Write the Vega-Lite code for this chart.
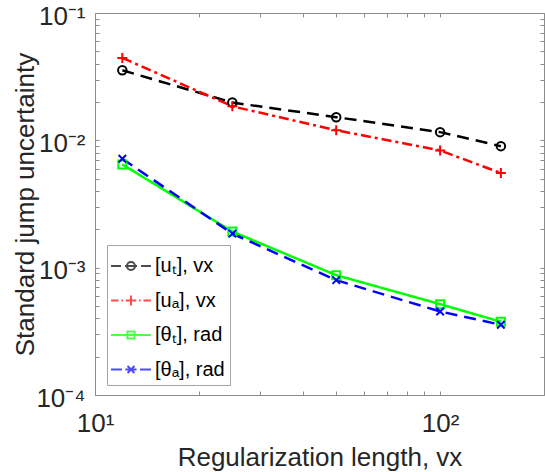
{
  "$schema": "https://vega.github.io/schema/vega-lite/v6.json",
  "width": 449,
  "height": 382,
  "autosize": {"type": "none"},
  "padding": {"left": 95, "top": 13, "right": 1, "bottom": 77},
  "background": "white",
  "config": {
    "font": "Liberation Sans",
    "view": {"stroke": null},
    "axis": {"grid": false, "domainColor": "#8c8c8c", "tickColor": "#8c8c8c", "labelColor": "#262626", "titleColor": "#262626", "labelFont": "Liberation Sans", "titleFont": "Liberation Sans", "labelFontSize": 26, "titleFontSize": 26, "titleFontWeight": "normal", "labelOverlap": false, "labelFlush": false, "labelBound": false, "tickSize": -4, "domainWidth": 1, "tickWidth": 1},
    "legend": {"labelFont": "Liberation Sans", "labelFontSize": 20, "labelColor": "#000000", "symbolStrokeWidth": 2, "symbolSize": 900, "symbolOffset": 3, "strokeColor": "#a6a6a6", "fillColor": "white", "padding": 5, "rowPadding": 8.5, "labelOffset": 8, "labelLimit": 300}
  },
  "data": {"values": [
    {"series": "[uₜ], vx", "x": 12, "y": 0.0355},
    {"series": "[uₜ], vx", "x": 25, "y": 0.0198},
    {"series": "[uₜ], vx", "x": 50, "y": 0.0152},
    {"series": "[uₜ], vx", "x": 100, "y": 0.0116},
    {"series": "[uₜ], vx", "x": 150, "y": 0.0090},
    {"series": "[uₐ], vx", "x": 12, "y": 0.0444},
    {"series": "[uₐ], vx", "x": 25, "y": 0.0185},
    {"series": "[uₐ], vx", "x": 50, "y": 0.0120},
    {"series": "[uₐ], vx", "x": 100, "y": 0.00833},
    {"series": "[uₐ], vx", "x": 150, "y": 0.00553},
    {"series": "[θₜ], rad", "x": 12, "y": 0.00647},
    {"series": "[θₜ], rad", "x": 25, "y": 0.00192},
    {"series": "[θₜ], rad", "x": 50, "y": 0.000873},
    {"series": "[θₜ], rad", "x": 100, "y": 0.000517},
    {"series": "[θₜ], rad", "x": 150, "y": 0.000376},
    {"series": "[θₐ], rad", "x": 12, "y": 0.00717},
    {"series": "[θₐ], rad", "x": 25, "y": 0.00185},
    {"series": "[θₐ], rad", "x": 50, "y": 0.000798},
    {"series": "[θₐ], rad", "x": 100, "y": 0.000453},
    {"series": "[θₐ], rad", "x": 150, "y": 0.000356}
  ]},
  "resolve": {
    "scale": {"shape": "independent"},
    "axis": {"x": "independent", "y": "independent"},
    "legend": {"color": "independent", "shape": "independent", "strokeDash": "independent"}
  },
  "layer": [
    {
      "mark": {"type": "line", "strokeWidth": 2.5},
      "encoding": {
        "x": {"field": "x", "type": "quantitative", "scale": {"type": "log", "domain": [10, 200], "nice": false},
          "axis": {"orient": "bottom", "title": "Regularization length, vx", "values": [10, 20, 30, 40, 50, 60, 70, 80, 90, 100, 200], "labelExpr": "datum.value == 10 ? '10¹' : datum.value == 100 ? '10²' : ''", "labelPadding": 19, "titlePadding": 8}},
        "y": {"field": "y", "type": "quantitative", "scale": {"type": "log", "domain": [0.0001, 0.1], "nice": false},
          "axis": {"orient": "left", "title": "Standard jump uncertainty", "values": [0.0001, 0.0002, 0.0003, 0.0004, 0.0005, 0.0006, 0.0007, 0.0008, 0.0009, 0.001, 0.002, 0.003, 0.004, 0.005, 0.006, 0.007, 0.008, 0.009, 0.01, 0.02, 0.03, 0.04, 0.05, 0.06, 0.07, 0.08, 0.09, 0.1], "labelExpr": "abs(datum.value - 0.1) < 1e-9 ? '10⁻¹' : abs(datum.value - 0.01) < 1e-10 ? '10⁻²' : abs(datum.value - 0.001) < 1e-11 ? '10⁻³' : abs(datum.value - 0.0001) < 1e-12 ? '10⁻⁴' : ''", "labelPadding": 14, "labelOffset": 3, "titlePadding": -3}},
        "color": {"field": "series", "type": "nominal", "scale": {"domain": ["[uₜ], vx", "[uₐ], vx", "[θₜ], rad", "[θₐ], rad"], "range": ["#000000", "#ff0000", "#00ff00", "#0000ff"]}, "legend": null},
        "strokeDash": {"field": "series", "type": "nominal", "scale": {"domain": ["[uₜ], vx", "[uₐ], vx", "[θₜ], rad", "[θₐ], rad"], "range": [[12, 7], [10, 4, 3, 4], [1, 0], [12, 7]]}, "legend": null}
      }
    },
    {
      "mark": {"type": "point", "filled": false, "strokeWidth": 2, "size": 100, "opacity": 1},
      "encoding": {
        "x": {"field": "x", "type": "quantitative",
          "axis": {"orient": "top", "title": null, "values": [10, 20, 30, 40, 50, 60, 70, 80, 90, 100, 200], "labels": false}},
        "y": {"field": "y", "type": "quantitative",
          "axis": {"orient": "right", "title": null, "values": [0.0001, 0.0002, 0.0003, 0.0004, 0.0005, 0.0006, 0.0007, 0.0008, 0.0009, 0.001, 0.002, 0.003, 0.004, 0.005, 0.006, 0.007, 0.008, 0.009, 0.01, 0.02, 0.03, 0.04, 0.05, 0.06, 0.07, 0.08, 0.09, 0.1], "labels": false}},
        "color": {"field": "series", "type": "nominal", "legend": null},
        "shape": {"field": "series", "type": "nominal", "legend": null, "scale": {"domain": ["[uₜ], vx", "[uₐ], vx", "[θₜ], rad", "[θₐ], rad"], "range": [
          "M0.85,0A0.85,0.85,0,1,1,-0.85,0A0.85,0.85,0,1,1,0.85,0Z",
          "M-1,0H1M0,-1V1",
          "M-0.8,-0.8H0.8V0.8H-0.8Z",
          "M-0.75,-0.75L0.75,0.75M-0.75,0.75L0.75,-0.75"
        ]}}
      }
    },
    {
      "transform": [{"filter": "false"}],
      "mark": {"type": "point", "filled": false, "strokeWidth": 2},
      "encoding": {
        "x": {"field": "x", "type": "quantitative", "axis": null},
        "y": {"field": "y", "type": "quantitative", "axis": null},
        "color": {"field": "series", "type": "nominal", "title": null,
          "legend": {"orient": "none", "legendX": 12, "legendY": 232, "title": null}},
        "shape": {"field": "series", "type": "nominal", "title": null,
          "legend": {"orient": "none", "legendX": 12, "legendY": 232, "title": null},
          "scale": {"domain": ["[uₜ], vx", "[uₐ], vx", "[θₜ], rad", "[θₐ], rad"], "range": [
            "M-1.33,0H-0.67M-0.4,0H0.4M0.67,0H1.33M0.27,0A0.27,0.27,0,1,1,-0.27,0A0.27,0.27,0,1,1,0.27,0Z",
            "M-1.33,0H-0.83M-0.64,0H-0.53M-0.35,0H0.35M0.53,0H0.64M0.83,0H1.33M0,-0.33V0.33",
            "M-1.33,0H1.33M-0.24,-0.24H0.24V0.24H-0.24Z",
            "M-1.33,0H-0.6M-0.37,0H0.37M0.6,0H1.33M-0.23,-0.23L0.23,0.23M-0.23,0.23L0.23,-0.23"
          ]}}
      }
    }
  ]
}
